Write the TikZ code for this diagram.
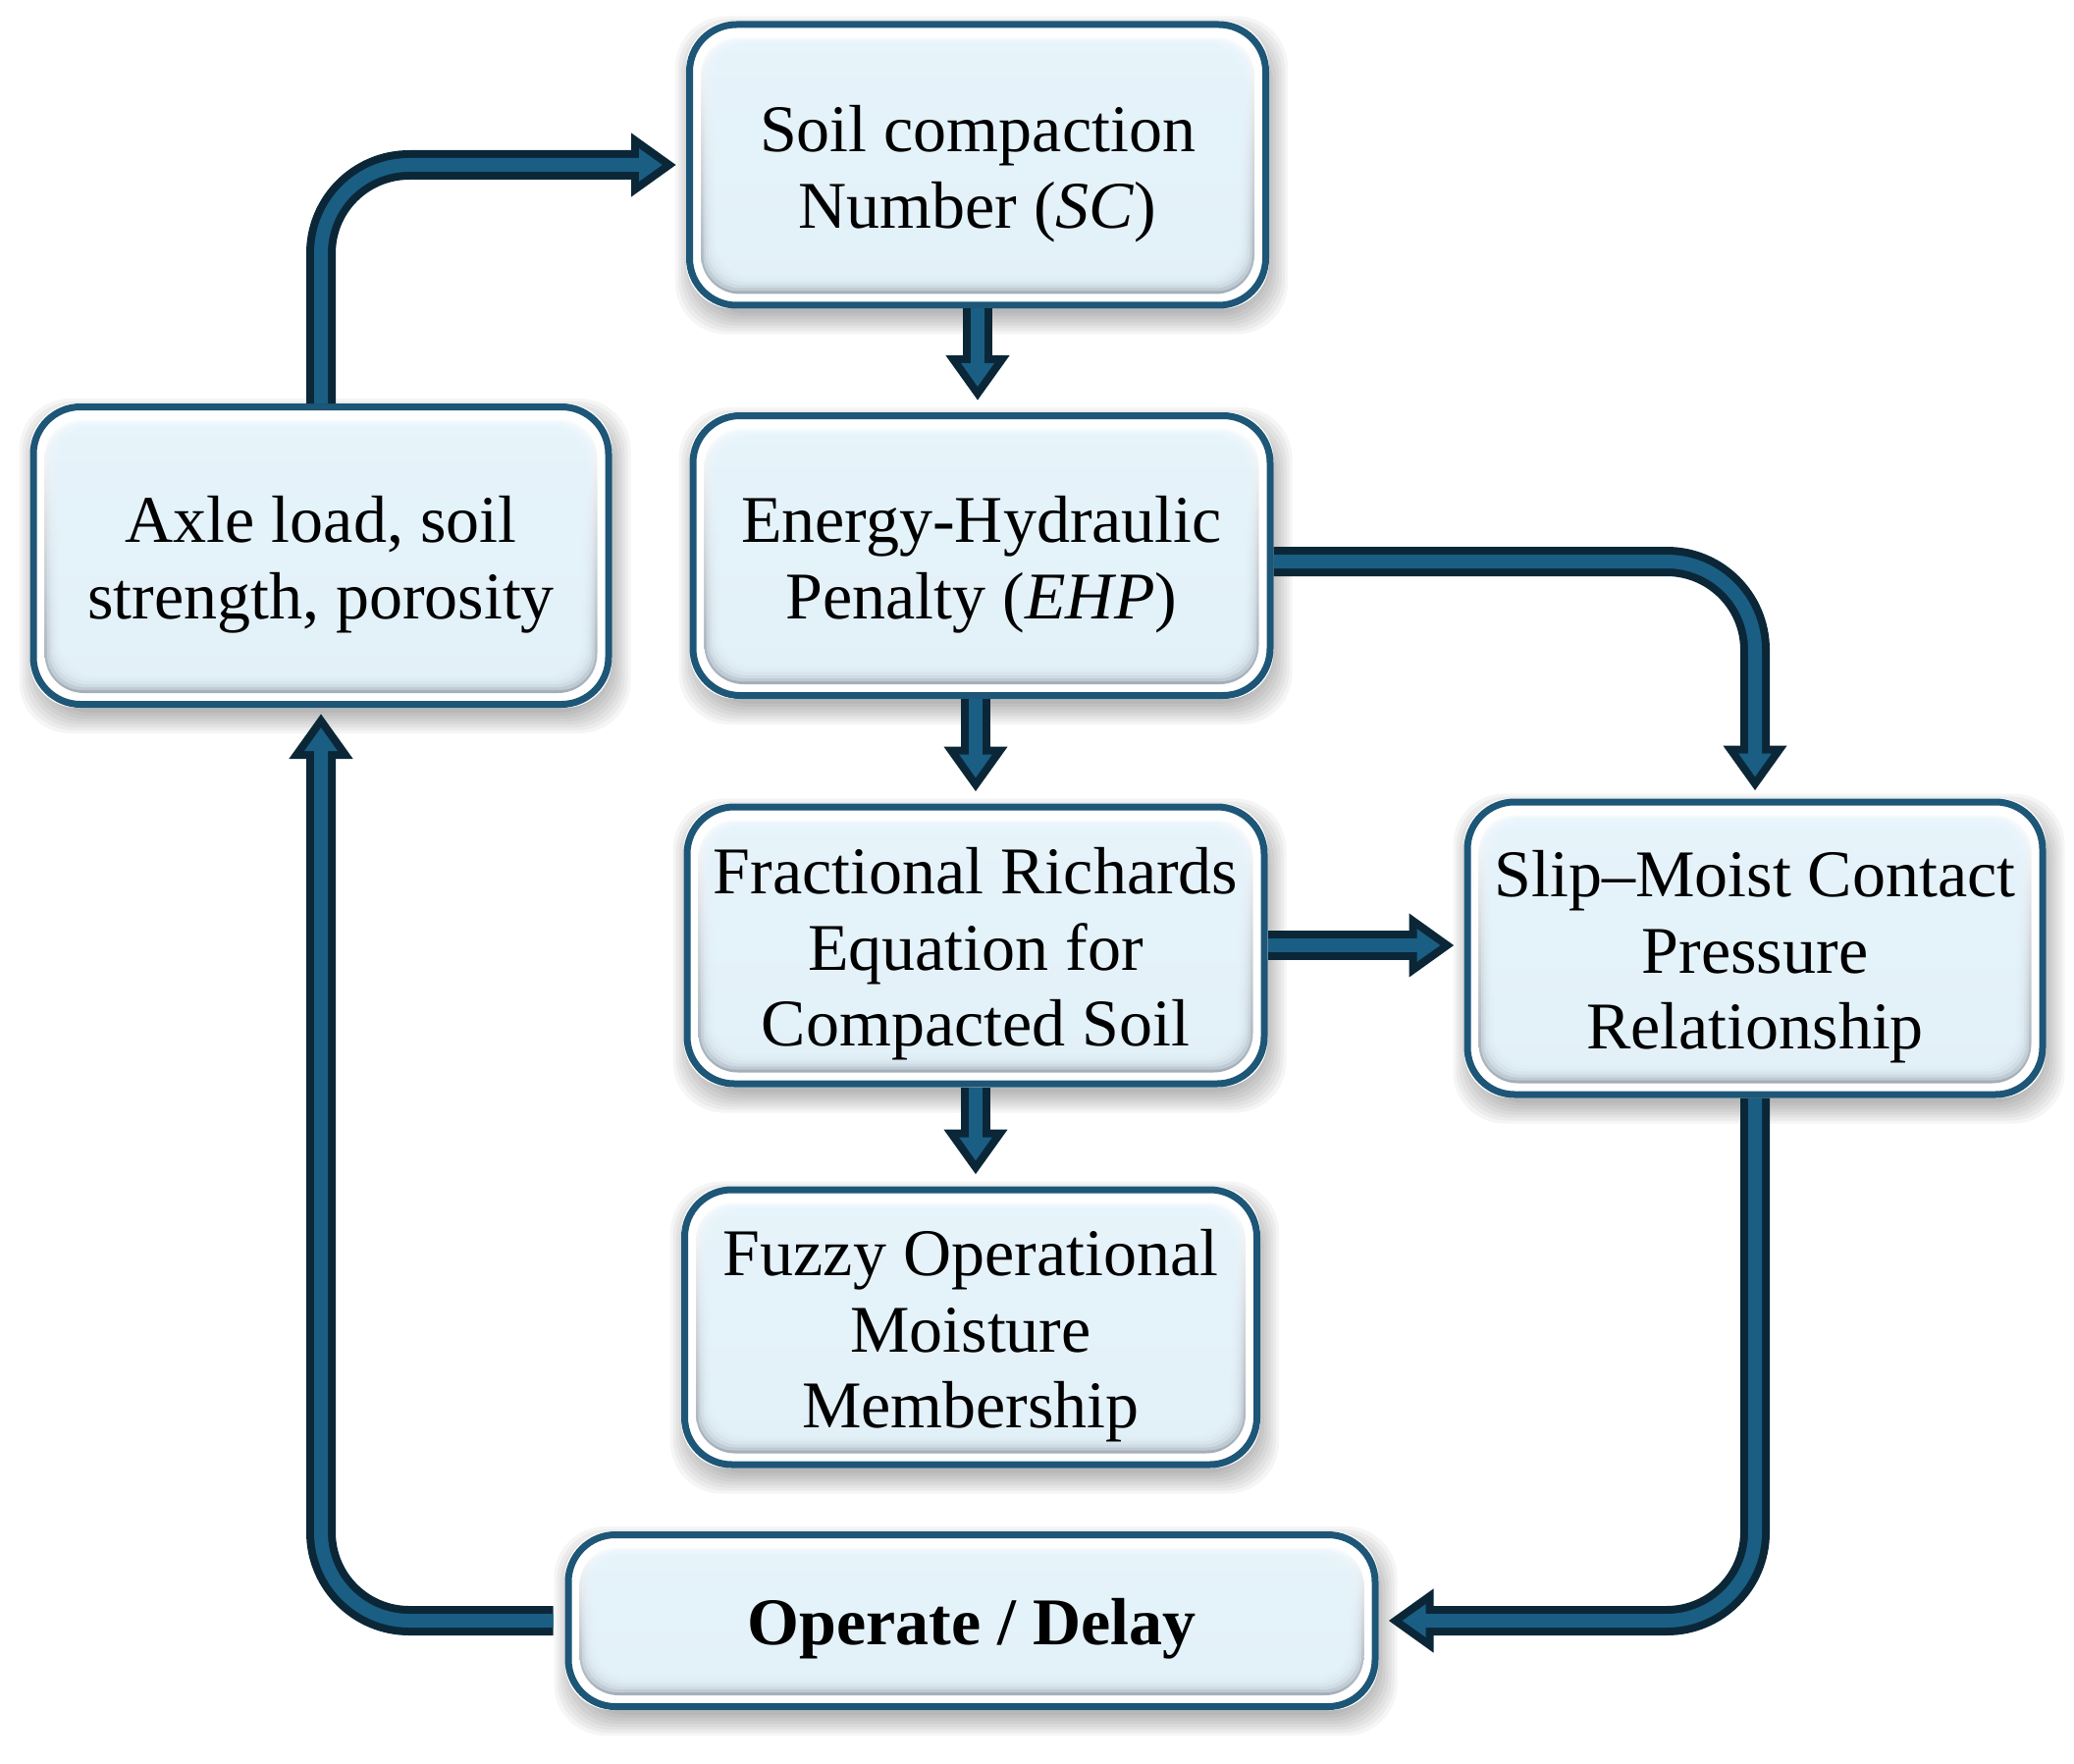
\documentclass[tikz,border=0pt]{standalone}
\usepackage{fontspec}
\setmainfont{Liberation Serif}
\usetikzlibrary{arrows.meta,calc}
\pgfdeclarelayer{background}
\pgfsetlayers{background,main}
\definecolor{bordc}{HTML}{1D5677}
\definecolor{arrdark}{HTML}{0B2737}
\definecolor{arrin}{HTML}{1A5E84}
\definecolor{panelc}{HTML}{E6F4FC}
\definecolor{bevelc}{HTML}{A3AEB8}
\tikzset{
  fbox/.style={draw=bordc, line width=3.5pt, rounded corners=24pt, inner sep=0pt},
  ftext/.style={align=center, inner sep=0pt, font=\fontsize{34pt}{38.75pt}\selectfont},
  flowout/.style={draw=arrdark, line width=15pt, rounded corners=45pt,
    -{Triangle[width=31pt,length=23pt]}},
  flowin/.style={draw=arrin, line width=7pt, rounded corners=45pt,
    -{Triangle[width=16pt,length=12pt]}},
}
\newcommand\flowarrow[3][]{%
  \draw[flowout,#1,shorten >=#2] #3;
  \draw[flowin,#1,shorten >=#2+7pt] #3;}
\newcommand\boxdeco[1]{%
  \begin{pgfonlayer}{background}
    \foreach \e in {0,3,...,21} {
      \pgfmathsetmacro\ax{10-\e}
      \pgfmathsetmacro\ay{16-\e}
      \pgfmathsetmacro\bx{\e-2}
      \pgfmathsetmacro\by{\e+5}
      \fill[black,opacity=0.04,rounded corners=26pt]
        ($(#1.north west)+(\ax,\ay)$) rectangle ($(#1.south east)+(\bx,\by)$);
    }
    \fill[white,rounded corners=24pt] (#1.north west) rectangle (#1.south east);
    \path[top color=white, bottom color=bevelc, rounded corners=20pt]
      ($(#1.north west)+(15,15)$) rectangle ($(#1.south east)+(-15,-15)$);
    \foreach \j in {1,...,6} {
      \pgfmathsetmacro\cx{15+2.5*\j}
      \pgfmathsetmacro\cy{15+2*\j}
      \pgfmathsetmacro\dx{-15-2.5*\j}
      \pgfmathsetmacro\dy{-15-3*\j}
      \fill[panelc,opacity=0.4,rounded corners=18pt]
        ($(#1.north west)+(\cx,\cy)$) rectangle ($(#1.south east)+(\dx,\dy)$);
    }
  \end{pgfonlayer}}
\begin{document}
\begin{tikzpicture}[x=0.5pt,y=-0.5pt]
\useasboundingbox (0,0) rectangle (2113,1797);
\node[fbox, minimum width=293.5pt, minimum height=143pt] (sc) at (996,168) {};
\node[fbox, minimum width=293pt, minimum height=151.5pt] (axle) at (327,566) {};
\node[fbox, minimum width=294pt, minimum height=142.5pt] (ehp) at (1000,566) {};
\node[fbox, minimum width=294pt, minimum height=141pt] (frac) at (994,963) {};
\node[fbox, minimum width=293pt, minimum height=149pt] (slip) at (1788,966) {};
\node[fbox, minimum width=291.5pt, minimum height=140pt] (fuzzy) at (989,1352) {};
\node[fbox, minimum width=411pt, minimum height=87.5pt] (op) at (990,1651) {};
\foreach \n in {sc,axle,ehp,frac,slip,fuzzy,op} {\boxdeco{\n}}
\node[ftext] (sct) at ([yshift=-4.5pt]sc.center) {Soil compaction\\Number (\textit{SC})};
\node[ftext] (axlet) at ([yshift=-4.5pt]axle.center) {Axle load, soil\\strength, porosity};
\node[ftext] (ehpt) at ([yshift=-4.5pt]ehp.center) {Energy-Hydraulic\\Penalty (\textit{EHP})};
\node[ftext] (fract) at ([yshift=-4.5pt]frac.center) {Fractional Richards\\Equation for\\Compacted Soil};
\node[ftext] (slipt) at ([yshift=-4.5pt]slip.center) {Slip–Moist Contact\\Pressure\\Relationship};
\node[ftext] (fuzzyt) at ([yshift=-4.5pt]fuzzy.center) {Fuzzy Operational\\Moisture\\Membership};
\node[ftext, font=\fontsize{34pt}{38.75pt}\selectfont\bfseries] (opt) at ([yshift=-4pt]op.center) {Operate / Delay};
\flowarrow{5pt}{(axle.north) |- (sc.west)}
\flowarrow{6pt}{(sc.south) -- (sc.south |- ehp.north)}
\flowarrow{6pt}{(frac.north |- ehp.south) -- (frac.north)}
\flowarrow{4pt}{([yshift=-3pt]ehp.east) -| (slip.north)}
\flowarrow{5pt}{(frac.east) -- (frac.east -| slip.west)}
\flowarrow{6pt}{(frac.south) -- (frac.south |- fuzzy.north)}
\flowarrow{5pt}{(slip.south) |- (op.east)}
\flowarrow[shorten <=6pt]{3pt}{(op.west) -| (axle.south)}
\end{tikzpicture}
\end{document}
